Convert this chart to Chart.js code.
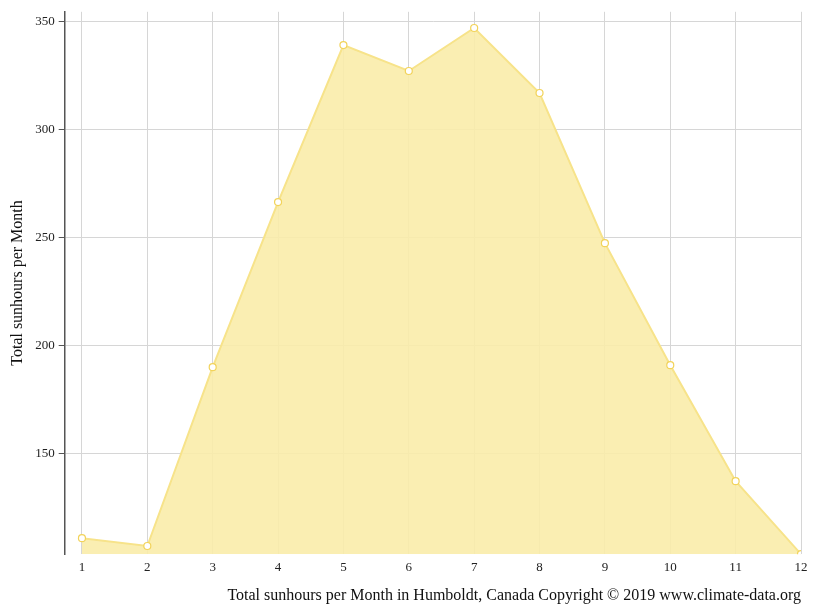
<!DOCTYPE html>
<html>
<head>
<meta charset="UTF-8">
<script src="https://cdn.jsdelivr.net/npm/chart.js"></script>
<style>
  body { margin: 0; background: #fff; }
  #wrap { width: 815px; height: 611px; }
</style>
</head>
<body>
<div id="wrap"><canvas id="c"></canvas></div>
<script>
const months = [1, 2, 3, 4, 5, 6, 7, 8, 9, 10, 11, 12];
const sunhours = [110.6, 107, 189.8, 266.2, 338.9, 326.9, 346.8, 316.7, 247.2, 190.7, 137, 103.2];
const yTicks = [150, 200, 250, 300, 350];

Chart.defaults.font.family = "'Liberation Serif', serif";
Chart.defaults.color = '#222';

new Chart(document.getElementById('c'), {
  type: 'line',
  data: {
    datasets: [{
      data: months.map((m, i) => ({ x: m, y: sunhours[i] })),
      borderColor: '#f7e38a',
      backgroundColor: 'rgba(249,236,170,0.9)',
      borderWidth: 2,
      fill: 'start',
      tension: 0,
      pointRadius: 3.5,
      pointBackgroundColor: '#fff',
      pointBorderColor: '#f2d35a',
      pointBorderWidth: 1.2
    }]
  },
  options: {
    responsive: true,
    maintainAspectRatio: false,
    animation: false,
    layout: { padding: { top: 10, right: 14, left: 4, bottom: 2 } },
    plugins: { legend: { display: false }, tooltip: { enabled: false } },
    scales: {
      x: {
        type: 'linear', min: 0.736, max: 12,
        afterBuildTicks: ax => { ax.ticks = months.map(v => ({ value: v })); },
        ticks: { font: { size: 13 }, padding: 6 },
        grid: { color: '#d6d6d6', drawTicks: false },
        border: { display: false },
        title: { display: true, text: 'Total sunhours per Month in Humboldt, Canada Copyright © 2019 www.climate-data.org', align: 'end', font: { size: 16 }, color: '#111', padding: { top: 4 } }
      },
      y: {
        min: 103.2, max: 354.3,
        afterBuildTicks: ax => { ax.ticks = yTicks.map(v => ({ value: v })); },
        ticks: { font: { size: 13 }, padding: 4 },
        grid: { color: '#d6d6d6', tickLength: 6, tickColor: '#555' },
        border: { color: '#555', width: 1.5 },
        title: { display: true, text: 'Total sunhours per Month', font: { size: 16 }, color: '#111' }
      }
    }
  }
});
</script>
</body>
</html>
